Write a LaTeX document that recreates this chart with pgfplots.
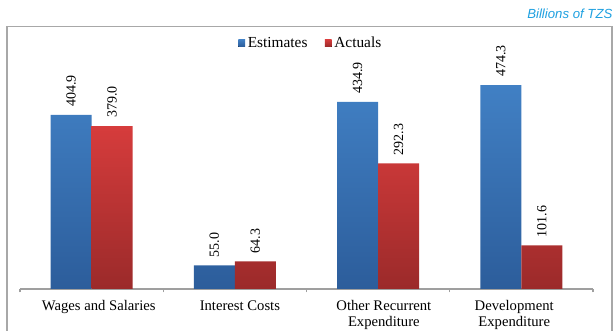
\documentclass[border=0pt]{standalone}
\usepackage{pgfplots}
\pgfplotsset{compat=1.18}
\usepackage{fontspec}
\setmainfont{Liberation Serif}
\newfontfamily\arialfont{Liberation Sans}

\definecolor{estTop}{HTML}{4180C4}
\definecolor{estBot}{HTML}{2C5D9B}
\definecolor{actTop}{HTML}{D63C3C}
\definecolor{actBot}{HTML}{9B2A2A}
\definecolor{titleblue}{HTML}{1EA0E0}
\definecolor{framegray}{HTML}{A8A8A8}

\begin{document}
\begin{tikzpicture}
  % page area and outer frame
  \path[use as bounding box] (0,0) rectangle (459.75pt,248.25pt);
  \draw[framegray, line width=1pt] (5.25pt,-2pt) -- (5.25pt,228.6pt) -- (459pt,228.6pt) -- (459pt,-2pt);
  \node[anchor=base east, inner sep=0pt, text=titleblue]
    at (459.5pt,234pt) {\arialfont\itshape\fontsize{9.9}{12}\selectfont Billions of TZS};

  \begin{axis}[
    at={(15pt,31.5pt)}, anchor=south west,
    scale only axis,
    width=429.75pt, height=193.5pt,
    xmin=-0.5, xmax=3.5, ymin=0, ymax=600,
    enlargelimits=false,
    ybar=0pt, bar width=30.75pt,
    axis y line=none,
    axis x line*=bottom,
    x axis line style={-, draw=gray!75, line width=0.8pt},
    xtick={0.05,1.035,2.04,2.95},
    xticklabels={Wages and Salaries, Interest Costs, Other Recurrent\\Expenditure, Development\\Expenditure},
    major x tick style={draw=none},
    minor xtick={-0.5,0.5,1.5,2.5,3.5},
    minor x tick style={draw=gray!75, line width=0.8pt},
    minor tick length=2.5pt,
    tick align=outside,
    xticklabel style={align=center, font=\fontsize{11}{11.5}\selectfont, yshift=-1pt},
    /pgf/number format/assume math mode=true,
    nodes near coords={\pgfmathprintnumber[fixed,fixed zerofill,precision=1]{\pgfplotspointmeta}},
    every node near coord/.append style={rotate=90, anchor=west, font=\fontsize{10.5}{12}\selectfont, text=black, inner xsep=6pt, inner ysep=2pt},
    legend columns=2,
    legend style={at={(0.508,0.953)}, anchor=center, draw=none, fill=none,
      font=\fontsize{11.5}{13}\selectfont,
      /tikz/every even column/.append style={column sep=11pt}},
    legend image code/.code={\fill[#1] (0pt,-2.6pt) rectangle (5.2pt,2.6pt);},
  ]
    \addplot[draw=none, top color=estTop, bottom color=estBot] coordinates {
      (0,404.9) (1,55.0) (2,434.9) (3,474.3)};
    \addplot[draw=none, top color=actTop, bottom color=actBot] coordinates {
      (0,379.0) (1,64.3) (2,292.3) (3,101.6)};
    \legend{Estimates, Actuals}
  \end{axis}
\end{tikzpicture}
\end{document}
